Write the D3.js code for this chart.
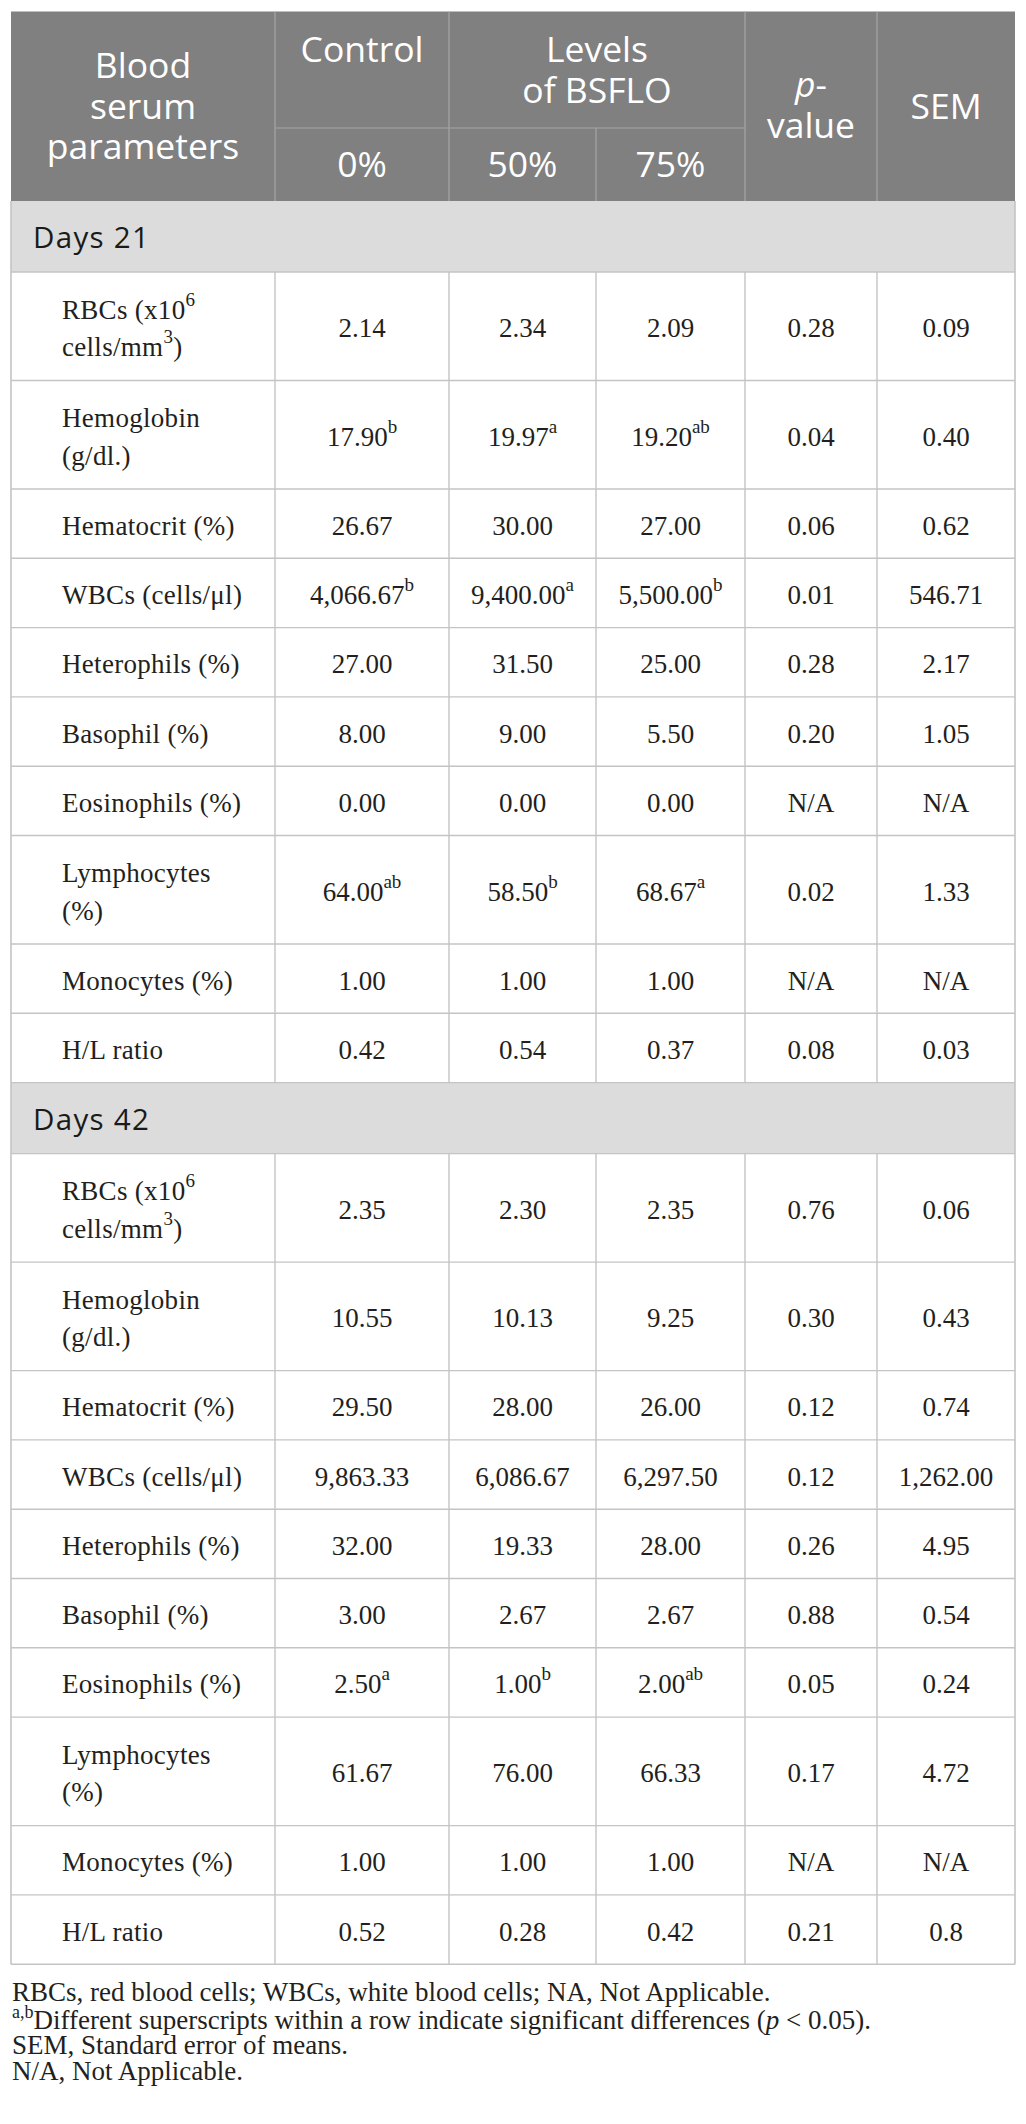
<!DOCTYPE html>
<html>
<head>
<meta charset="utf-8">
<script src="https://cdn.jsdelivr.net/npm/d3@7"></script>
<style>
  body { margin: 0; background: #fff; }
</style>
</head>
<body>
<div id="table"></div>
<script>
// table data  (^{..} = superscript, _{..} = italic)
var headTop = ["Blood serum parameters", "Control", "Levels of BSFLO", "p-value", "SEM"];
var headSub = ["0%", "50%", "75%"];
var sections = ["Days 21", "Days 42"];

var paramLabels = [
    ["RBCs (x10^{6}", "cells/mm^{3})"],
    ["Hemoglobin", "(g/dl.)"],
    ["Hematocrit (%)"],
    ["WBCs (cells/μl)"],
    ["Heterophils (%)"],
    ["Basophil (%)"],
    ["Eosinophils (%)"],
    ["Lymphocytes", "(%)"],
    ["Monocytes (%)"],
    ["H/L ratio"]
];

// days 21
var control21 = ["2.14", "17.90^{b}", "26.67", "4,066.67^{b}", "27.00", "8.00", "0.00", "64.00^{ab}", "1.00", "0.42"];
var bsflo50_21 = ["2.34", "19.97^{a}", "30.00", "9,400.00^{a}", "31.50", "9.00", "0.00", "58.50^{b}", "1.00", "0.54"];
var bsflo75_21 = ["2.09", "19.20^{ab}", "27.00", "5,500.00^{b}", "25.00", "5.50", "0.00", "68.67^{a}", "1.00", "0.37"];
var pValue21 = ["0.28", "0.04", "0.06", "0.01", "0.28", "0.20", "N/A", "0.02", "N/A", "0.08"];
var sem21 = ["0.09", "0.40", "0.62", "546.71", "2.17", "1.05", "N/A", "1.33", "N/A", "0.03"];

// days 42
var control42 = ["2.35", "10.55", "29.50", "9,863.33", "32.00", "3.00", "2.50^{a}", "61.67", "1.00", "0.52"];
var bsflo50_42 = ["2.30", "10.13", "28.00", "6,086.67", "19.33", "2.67", "1.00^{b}", "76.00", "1.00", "0.28"];
var bsflo75_42 = ["2.35", "9.25", "26.00", "6,297.50", "28.00", "2.67", "2.00^{ab}", "66.33", "1.00", "0.42"];
var pValue42 = ["0.76", "0.30", "0.12", "0.12", "0.26", "0.88", "0.05", "0.17", "N/A", "0.21"];
var sem42 = ["0.06", "0.43", "0.74", "1,262.00", "4.95", "0.54", "0.24", "4.72", "N/A", "0.8"];

var footnotes = [
    "RBCs, red blood cells; WBCs, white blood cells; NA, Not Applicable.",
    "^{a,b}Different superscripts within a row indicate significant differences (_{p} < 0.05).",
    "SEM, Standard error of means.",
    "N/A, Not Applicable."
];

var sectionValues = [
    [control21, bsflo50_21, bsflo75_21, pValue21, sem21],
    [control42, bsflo50_42, bsflo75_42, pValue42, sem42]
];

//layout
var width = 1026, height = 2124;
var colKeys = ["param", "c0", "c50", "c75", "p", "sem"];
var colEdges = [11, 275, 449, 596, 745, 877, 1015];
var tableTop = 11.5, headMid = 128, headBottom = 201;
var bandH = 71, singleH = 69.3, doubleH = 108.5;

var serif = "'Liberation Serif', 'Times New Roman', serif";
var sans = "'Open Sans', 'Noto Sans', sans-serif";
var textColor = "#231f20";
var gridColor = "#c4c4c4";

var colLeft = d3.scaleOrdinal().domain(colKeys).range(colEdges.slice(0, 6));
var colRight = d3.scaleOrdinal().domain(colKeys).range(colEdges.slice(1));
function colMid(k) { return (colLeft(k) + colRight(k)) / 2; }

// build row list
var rows = [];
sections.forEach(function(s, si) {
    rows.push({type: "band", label: s, h: bandH});
    paramLabels.forEach(function(lab, pi) {
        rows.push({
            type: "data",
            label: lab,
            values: sectionValues[si].map(function(col) { return col[pi]; }),
            h: lab.length > 1 ? doubleH : singleH
        });
    });
});
var offsets = d3.cumsum(rows, function(d) { return d.h; });
rows.forEach(function(r, i) {
    r.y0 = headBottom + (i === 0 ? 0 : offsets[i - 1]);
    r.y1 = headBottom + offsets[i];
});
var tableBottom = rows[rows.length - 1].y1;

var svg = d3.select("#table")
    .append("svg")
    .attr("width", width)
    .attr("height", height);

// write text with ^{sup} and _{italic} pieces
function richText(sel, str, supSize, supShift) {
    var parts = str.split(/(\^\{[^}]*\}|_\{[^}]*\})/).filter(function(p) { return p.length; });
    var raised = false;
    parts.forEach(function(p) {
        var t = sel.append("tspan");
        if (p.indexOf("^{") === 0) {
            t.text(p.slice(2, -1)).attr("font-size", supSize).attr("dy", raised ? 0 : -supShift);
            raised = true;
        } else {
            if (p.indexOf("_{") === 0) {
                t.text(p.slice(2, -1)).attr("font-style", "italic");
            } else {
                t.text(p);
            }
            if (raised) { t.attr("dy", supShift); raised = false; }
        }
    });
}

// header
svg.append("rect")
    .attr("x", colEdges[0]).attr("y", tableTop)
    .attr("width", colEdges[6] - colEdges[0]).attr("height", headBottom - tableTop)
    .attr("fill", "#808080");

var headLine = "#a6a6a6";
var headG = svg.append("g").attr("class", "head");
[1, 2, 4, 5].forEach(function(i) {
    headG.append("line")
        .attr("x1", colEdges[i]).attr("x2", colEdges[i])
        .attr("y1", tableTop).attr("y2", headBottom)
        .attr("stroke", headLine).attr("stroke-width", 1.2);
});
headG.append("line")
    .attr("x1", colEdges[3]).attr("x2", colEdges[3])
    .attr("y1", headMid).attr("y2", headBottom)
    .attr("stroke", headLine).attr("stroke-width", 1.2);
headG.append("line")
    .attr("x1", colEdges[1]).attr("x2", colEdges[4])
    .attr("y1", headMid).attr("y2", headMid)
    .attr("stroke", headLine).attr("stroke-width", 1.2);

var headCells = [
    {x: colMid("param"), lines: ["Blood", "serum", "parameters"], y: 78},
    {x: colMid("c0"), lines: ["Control"], y: 62},
    {x: (colLeft("c50") + colRight("c75")) / 2, lines: ["Levels", "of BSFLO"], y: 62},
    {x: colMid("p"), lines: ["_{p}-", "value"], y: 97},
    {x: colMid("sem"), lines: ["SEM"], y: 119}
];
headCells.forEach(function(c, i) {
    c.lines.forEach(function(l, li) {
        var t = headG.append("text")
            .attr("x", c.x).attr("y", c.y + li * 40.5)
            .attr("text-anchor", "middle")
            .attr("font-family", sans).attr("font-size", 35.5)
            .attr("fill", "#fff");
        richText(t, l, 20, 14);
    });
});
headSub.forEach(function(s, i) {
    headG.append("text")
        .attr("x", colMid(colKeys[i + 1])).attr("y", 177)
        .attr("text-anchor", "middle")
        .attr("font-family", sans).attr("font-size", 35.5)
        .attr("fill", "#fff")
        .text(s);
});

// body rows
var body = svg.append("g").attr("class", "body");

body.selectAll(".band")
    .data(rows.filter(function(r) { return r.type === "band"; }))
    .enter().append("rect")
    .attr("class", "band")
    .attr("x", colEdges[0]).attr("y", function(d) { return d.y0; })
    .attr("width", colEdges[6] - colEdges[0])
    .attr("height", function(d) { return d.h; })
    .attr("fill", "#dcdcdc");

body.selectAll(".bandLabel")
    .data(rows.filter(function(r) { return r.type === "band"; }))
    .enter().append("text")
    .attr("class", "bandLabel")
    .attr("x", 33)
    .attr("y", function(d) { return (d.y0 + d.y1) / 2 + 11.5; })
    .attr("font-family", sans).attr("font-size", 29.5)
    .attr("letter-spacing", 1.3)
    .attr("fill", "#1a1a1a")
    .text(function(d) { return d.label; });

// grid lines
var dataRows = rows.filter(function(r) { return r.type === "data"; });
rows.forEach(function(r) {
    body.append("line")
        .attr("x1", colEdges[0]).attr("x2", colEdges[6])
        .attr("y1", r.y1).attr("y2", r.y1)
        .attr("stroke", gridColor).attr("stroke-width", 1.4);
});
dataRows.forEach(function(r) {
    colEdges.slice(1, 6).forEach(function(x) {
        body.append("line")
            .attr("x1", x).attr("x2", x)
            .attr("y1", r.y0).attr("y2", r.y1)
            .attr("stroke", gridColor).attr("stroke-width", 1.4);
    });
});
// outer sides
[colEdges[0], colEdges[6]].forEach(function(x) {
    svg.append("line")
        .attr("x1", x).attr("x2", x)
        .attr("y1", headBottom).attr("y2", tableBottom)
        .attr("stroke", gridColor).attr("stroke-width", 1.6);
});

// cell text
dataRows.forEach(function(r) {
    var mid = (r.y0 + r.y1) / 2;
    var lineH = 37.5;
    var first = mid + 11 - (r.label.length - 1) * lineH / 2;
    r.label.forEach(function(l, li) {
        var t = body.append("text")
            .attr("x", 62).attr("y", first + li * lineH)
            .attr("font-family", serif).attr("font-size", 27)
            .attr("letter-spacing", 0.3)
            .attr("fill", textColor);
        richText(t, l, 19, 13);
    });
    r.values.forEach(function(v, vi) {
        var t = body.append("text")
            .attr("x", colMid(colKeys[vi + 1])).attr("y", mid + 11)
            .attr("text-anchor", "middle")
            .attr("font-family", serif).attr("font-size", 27)
            .attr("fill", textColor);
        richText(t, v, 19, 13);
    });
});

// footnotes
var noteY = [2001, 2029, 2054, 2080];
footnotes.forEach(function(n, i) {
    var t = svg.append("text")
        .attr("x", 12).attr("y", noteY[i])
        .attr("font-family", serif).attr("font-size", 27)
        .attr("fill", textColor);
    richText(t, n, 18, 11);
});
</script>
</body>
</html>
